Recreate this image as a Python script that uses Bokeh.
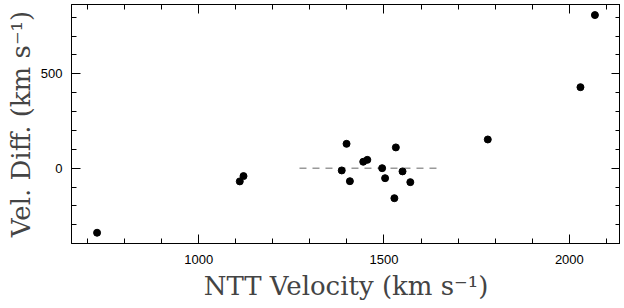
from bokeh.plotting import figure
from bokeh.models import LinearAxis, SingleIntervalTicker, Range1d, CustomJSTickFormatter
from bokeh.embed import file_html
from bokeh.resources import INLINE

# Data
ntt_velocity = [726, 1111, 1121, 1386, 1399, 1408, 1444, 1455, 1495, 1503,
                1528, 1532, 1550, 1571, 1780, 2030, 2069]
vel_diff = [-342, -70, -42, -12, 129, -69, 34, 44, 0, -53,
            -159, 110, -17, -74, 152, 429, 811]
ref_x = [1272, 1654]
ref_y = [0, 0]

x_range = (657, 2138)
y_range = (-399, 867)

p = figure(width=620, height=306, output_backend="svg", toolbar_location=None,
           x_range=Range1d(*x_range), y_range=Range1d(*y_range),
           x_axis_location=None, y_axis_location=None,
           min_border_left=71, min_border_right=0, min_border_top=4,
           min_border_bottom=63, background_fill_color="white",
           border_fill_color="white", outline_line_color="black",
           outline_line_width=1)
p.grid.visible = False

def make_axis(labels, label_text=None):
    ax = LinearAxis(ticker=SingleIntervalTicker(interval=500, num_minor_ticks=5))
    ax.major_tick_in = 9
    ax.major_tick_out = 0
    ax.minor_tick_in = 5
    ax.minor_tick_out = 0
    ax.axis_line_color = "black"
    ax.major_tick_line_color = "black"
    ax.minor_tick_line_color = "black"
    if labels:
        ax.major_label_text_font = "Liberation Sans"
        ax.major_label_text_font_size = "13px"
        ax.major_label_text_color = "black"
        ax.axis_label = label_text
        ax.axis_label_text_font = "DejaVu Serif"
        ax.axis_label_text_font_size = "26px"
        ax.axis_label_text_font_style = "normal"
        ax.axis_label_text_color = "#444444"
    else:
        ax.formatter = CustomJSTickFormatter(code="return ''")
        ax.major_label_standoff = 0
    return ax

bottom = make_axis(True, "NTT Velocity (km s⁻¹)")
bottom.major_label_standoff = 11
bottom.axis_label_standoff = 4
left = make_axis(True, "Vel. Diff. (km s⁻¹)")
left.major_label_standoff = 9
left.axis_label_standoff = 2
top = make_axis(False)
right = make_axis(False)

p.add_layout(bottom, "below")
p.add_layout(left, "left")
p.add_layout(top, "above")
p.add_layout(right, "right")

p.line(ref_x, ref_y, line_color="#999999", line_width=1.5, line_dash="7 6")
p.scatter(ntt_velocity, vel_diff, size=7, fill_color="black", line_color="black")

open("out.html", "w").write(file_html(p, INLINE))
